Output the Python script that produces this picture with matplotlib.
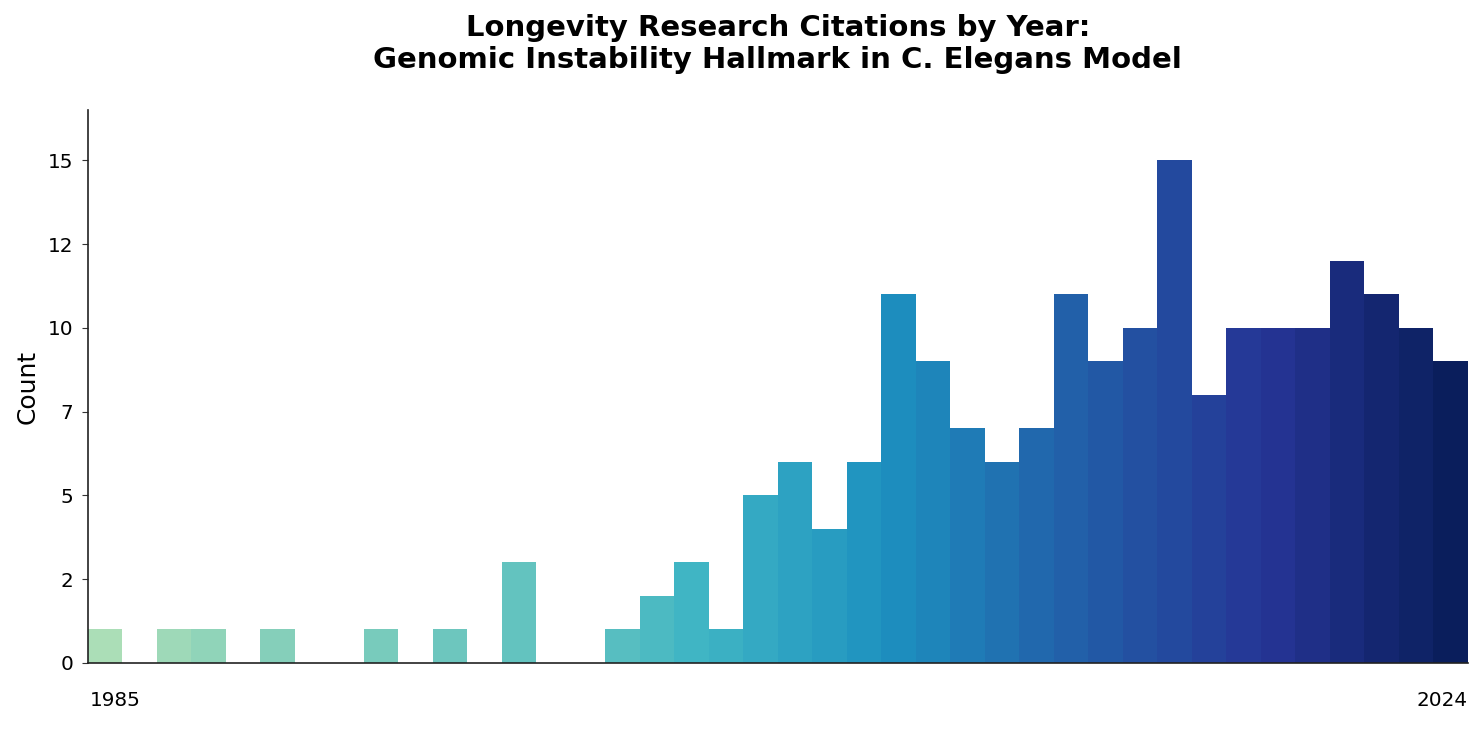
import matplotlib
matplotlib.use("Agg")
import matplotlib.pyplot as plt
import numpy as np
from matplotlib.ticker import FuncFormatter

years = list(range(1985, 2025))
counts = [1, 0, 1, 1, 0, 1, 0, 0, 1, 0, 1, 0, 3, 0, 0, 1, 2, 3, 1, 5,
          6, 4, 6, 11, 9, 7, 6, 7, 11, 9, 10, 15, 8, 10, 10, 10, 12, 11, 10, 9]
yticks = [0, 2.5, 5, 7.5, 10, 12.5, 15]

fig = plt.figure(figsize=(14.84, 7.33), dpi=100)
ax = fig.add_axes([0.0593, 0.0955, 0.9297, 0.7545])

# colours run along the non-empty bars only
nonzero = [(y, c) for y, c in zip(years, counts) if c > 0]
cmap = plt.get_cmap("YlGnBu")
colors = [cmap(v) for v in np.linspace(0.30, 0.99, len(nonzero))]
ax.bar([y for y, _ in nonzero], [c for _, c in nonzero], width=1.0,
       color=colors, align="center", linewidth=0)

ax.set_xlim(years[0] - 0.5, years[-1] + 0.5)
ax.set_ylim(0, max(counts) * 1.1)
ax.set_yticks(yticks)
ax.yaxis.set_major_formatter(FuncFormatter(lambda v, p: f"{int(v)}"))
ax.tick_params(axis="y", labelsize=14.4, length=4.5, pad=6, color="#333333")
ax.set_xticks([])
ax.text(0.0015, -0.068, str(years[0]), transform=ax.transAxes, ha="left", va="center", fontsize=14.4)
ax.text(1.0, -0.068, str(years[-1]), transform=ax.transAxes, ha="right", va="center", fontsize=14.4)

for s in ["top", "right"]:
    ax.spines[s].set_visible(False)
for s in ["left", "bottom"]:
    ax.spines[s].set_color("#222222")
    ax.spines[s].set_linewidth(1.2)

ax.set_ylabel("Count", fontsize=18, labelpad=6)
ax.set_title("Longevity Research Citations by Year:\nGenomic Instability Hallmark in C. Elegans Model",
             fontsize=21, fontweight="bold", pad=30)

fig.savefig("out.png", dpi=100)
